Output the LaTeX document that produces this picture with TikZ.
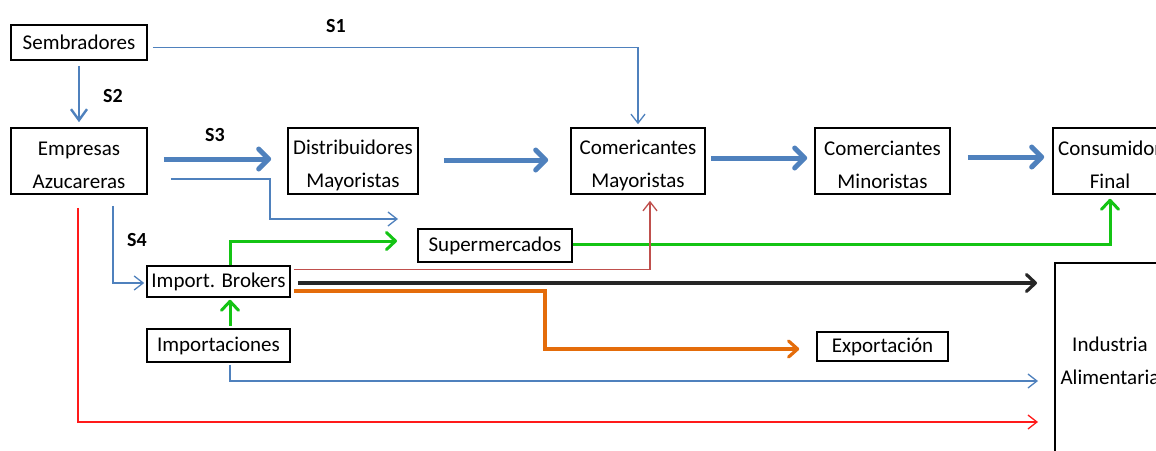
\documentclass[tikz,border=0pt]{standalone}
\usepackage{fontspec}
\setmainfont{Carlito}
\usetikzlibrary{arrows.meta,calc}
\definecolor{cblue}{HTML}{4F81BD}
\definecolor{cgreen}{HTML}{14C414}
\definecolor{cred}{HTML}{FF1A1A}
\definecolor{cbrown}{HTML}{C0504D}
\definecolor{corange}{HTML}{E46C0A}
\definecolor{cblack}{HTML}{262626}
\begin{document}
\begin{tikzpicture}[x=1pt,y=-1pt,
  box/.style={draw=black,line width=1.6pt,align=center,inner sep=0pt,font=\fontsize{21}{33}\selectfont},
  lbl/.style={font=\fontsize{20}{24}\selectfont\bfseries},
  bluethin/.style={draw=cblue,line width=1.3pt,-{Straight Barb[length=9pt,width=14pt]}},
  bluemid/.style={draw=cblue,line width=2.4pt,-{Straight Barb[length=11pt,width=16pt]}},
  bluethick/.style={draw=cblue,line width=5pt,-{Straight Barb[length=10pt,width=20pt,round]}},
  greenarr/.style={draw=cgreen,line width=3pt,-{Straight Barb[length=9pt,width=17pt,round]}},
  blackarr/.style={draw=cblack,line width=3.2pt,-{Straight Barb[length=9pt,width=17pt,round]}},
  orangearr/.style={draw=corange,line width=3.2pt,-{Straight Barb[length=9pt,width=16pt,round]}},
  redarr/.style={draw=cred,line width=1.3pt,-{Straight Barb[length=9pt,width=14pt]}},
  brownarr/.style={draw=cbrown,line width=1.3pt,-{Straight Barb[length=9pt,width=14pt]}}
]
\useasboundingbox (0,0) rectangle (1156,450);
\clip (0,0) rectangle (1156,450);
\fill[white] (0,0) rectangle (1156,450);

% boxes
\node[box,minimum width=136pt,minimum height=35pt] (sem) at (79,42.5) {Sembradores};
\node[box,minimum width=136pt,minimum height=66pt] (emp) at (79,161) {\strut Empresas\\Azucareras};
\node[box,minimum width=130pt,minimum height=66pt] (dist) at (353,161) {\strut Distribuidores\\Mayoristas};
\node[box,minimum width=134pt,minimum height=66pt] (cmay) at (638,161) {\strut Comericantes\\Mayoristas};
\node[box,minimum width=135pt,minimum height=66pt] (cmin) at (882.5,161) {\strut Comerciantes\\Minoristas};
\node[box,minimum width=114pt,minimum height=66pt] (cons) at (1110,161) {\strut Consumidor\\Final};
\node[box,minimum width=154pt,minimum height=33pt] (super) at (495,245.5) {Supermercados};
\node[box,minimum width=143pt,minimum height=31pt] (brok) at (218.5,281.5) {Import. Brokers};
\node[box,minimum width=143pt,minimum height=33pt] (impo) at (218.5,345.5) {Importaciones};
\node[box,minimum width=131pt,minimum height=29pt] (expo) at (882.5,346.5) {Exportación};
\node[box,minimum width=110pt,minimum height=196pt] (ind) at (1110,361) {Industria\\Alimentaria};

% labels
\node[lbl] (s1) at (336,26) {S1};
\node[lbl] (s2) at (113,96) {S2};
\node[lbl] (s3) at (215,135) {S3};
\node[lbl] (s4) at (137,240) {S4};

% free end points
\coordinate (e1) at (398,219);
\coordinate (e2) at (397,241);
\coordinate (e3) at (1037,283);
\coordinate (e4) at ($(expo.west)+(-17,2.5)$);
\coordinate (e5) at (1038,381);
\coordinate (e6) at (1038,422);

% S1
\draw[bluethin,shorten >=3pt] ($(sem.east)+(5,5)$) -| (cmay.north);
% S2
\draw[bluemid,shorten <=5pt,shorten >=5pt] (sem.south) -- (emp.north);
% S3 and main chain
\draw[bluethick,shorten <=16pt,shorten >=16pt] ($(emp.east)+(0,-2)$) -- ($(dist.west)+(0,-2)$);
\draw[bluethick,shorten <=25pt,shorten >=22pt] ($(dist.east)+(0,-1)$) -- ($(cmay.west)+(0,-1)$);
\draw[bluethick,shorten <=5pt,shorten >=7pt] ($(cmay.east)+(0,-3)$) -- ($(cmin.west)+(0,-3)$);
\draw[bluethick,shorten <=17pt,shorten >=8pt] ($(cmin.east)+(0,-4)$) -- ($(cons.west)+(0,-4)$);
% thin blue from Empresas
\draw[bluethin] ($(emp.east)+(23,18)$) -| (270,219) -- (e1);
\draw[bluethin,shorten >=2pt] ($(emp.south)+(34,11)$) |- ($(brok.west)+(0,1.5)$);
% red long
\draw[redarr] ($(emp.south)+(-1,13)$) |- (e6);
% green
\draw[greenarr] ($(brok.north)+(11.5,0)$) |- (e2);
\draw[greenarr,shorten >=4pt] ($(super.east)+(0,-1.5)$) -| (cons.south);
\draw[greenarr,shorten <=2pt,shorten >=2pt] ($(impo.north)+(11.5,0)$) -- ($(brok.south)+(11.5,0)$);
% brown red
\draw[brownarr,shorten >=6pt] ($(brok.east)+(3,-12)$) -| ($(cmay.south)+(12,0)$);
% black
\draw[blackarr] ($(brok.east)+(7,1.5)$) -- (e3);
% orange
\draw[orangearr] ($(brok.east)+(3,9.5)$) -- (545,291) |- (e4);
% blue from Importaciones
\draw[bluethin] ($(impo.south)+(11.5,2)$) |- (e5);
\end{tikzpicture}
\end{document}
